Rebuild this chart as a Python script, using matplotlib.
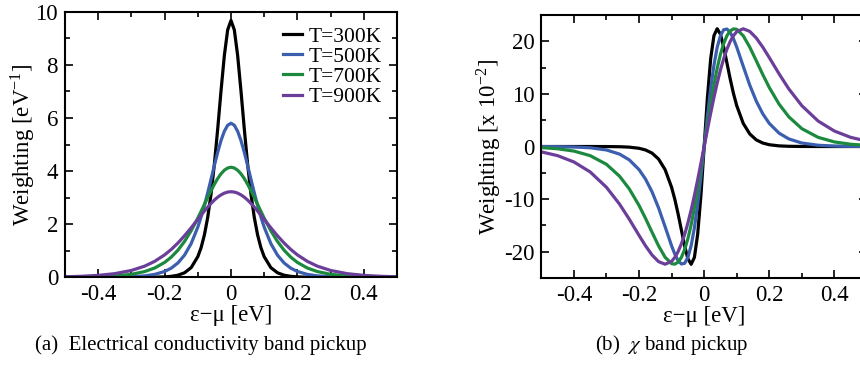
"""Fermi-window weightings for electrical conductivity and chi band pickup."""
import matplotlib
matplotlib.use("Agg")
import matplotlib.pyplot as plt
from matplotlib.ticker import MultipleLocator

plt.rcParams["font.family"] = ["Liberation Serif", "DejaVu Serif"]
plt.rcParams["mathtext.fontset"] = "stix"
plt.rcParams["axes.unicode_minus"] = False

# energy grid (eV)
X = [-0.50, -0.45, -0.40, -0.35, -0.30, -0.26, -0.23, -0.20, -0.18, -0.16,
     -0.14, -0.12, -0.10, -0.09, -0.08, -0.07, -0.06, -0.05, -0.04, -0.03,
     -0.02, -0.01, 0.00, 0.01, 0.02, 0.03, 0.04, 0.05, 0.06, 0.07, 0.08,
     0.09, 0.10, 0.12, 0.14, 0.16, 0.18, 0.20, 0.23, 0.26, 0.30, 0.35, 0.40,
     0.45, 0.50]

labels = ["T=300K", "T=500K", "T=700K", "T=900K"]
colors = ["#000000", "#3b5fae", "#1c8a3e", "#6b3f99"]

# (a) electrical conductivity weighting [eV^-1]
cond_300 = [0.000, 0.000, 0.000, 0.000, 0.000, 0.002, 0.005, 0.017, 0.037, 0.079,
            0.171, 0.366, 0.776, 1.120, 1.604, 2.267, 3.149, 4.268, 5.596, 7.027,
            8.356, 9.317, 9.670, 9.317, 8.356, 7.027, 5.596, 4.268, 3.149, 2.267,
            1.604, 1.120, 0.776, 0.366, 0.171, 0.079, 0.037, 0.017, 0.005, 0.002,
            0.000, 0.000, 0.000, 0.000, 0.000]
cond_500 = [0.000, 0.001, 0.002, 0.007, 0.022, 0.055, 0.110, 0.220, 0.345, 0.540,
            0.835, 1.271, 1.889, 2.276, 2.711, 3.191, 3.699, 4.216, 4.712, 5.152,
            5.500, 5.725, 5.802, 5.725, 5.500, 5.152, 4.712, 4.216, 3.699, 3.191,
            2.711, 2.276, 1.889, 1.271, 0.835, 0.540, 0.345, 0.220, 0.110, 0.055,
            0.022, 0.007, 0.002, 0.001, 0.000]
cond_700 = [0.004, 0.010, 0.022, 0.050, 0.113, 0.217, 0.350, 0.561, 0.760, 1.020,
            1.350, 1.755, 2.228, 2.485, 2.748, 3.011, 3.267, 3.506, 3.720, 3.898,
            4.032, 4.116, 4.144, 4.116, 4.032, 3.898, 3.720, 3.506, 3.267, 3.011,
            2.748, 2.485, 2.228, 1.755, 1.350, 1.020, 0.760, 0.561, 0.350, 0.217,
            0.113, 0.050, 0.022, 0.010, 0.004]
cond_900 = [0.020, 0.039, 0.073, 0.138, 0.259, 0.421, 0.601, 0.845, 1.050, 1.290,
            1.564, 1.865, 2.183, 2.342, 2.498, 2.646, 2.785, 2.910, 3.018, 3.105,
            3.170, 3.210, 3.223, 3.210, 3.170, 3.105, 3.018, 2.910, 2.785, 2.646,
            2.498, 2.342, 2.183, 1.865, 1.564, 1.290, 1.050, 0.845, 0.601, 0.421,
            0.259, 0.138, 0.073, 0.039, 0.020]

# (b) chi weighting [x 10^-2]
chi_300 = [0.00, 0.00, 0.00, 0.00, -0.01, -0.04, -0.12, -0.34, -0.66, -1.26,
           -2.39, -4.39, -7.76, -10.08, -12.83, -15.87, -18.89, -21.34, -22.39, -21.08,
           -16.71, -9.32, 0.00, 9.32, 16.71, 21.08, 22.39, 21.34, 18.89, 15.87,
           12.83, 10.08, 7.76, 4.39, 2.39, 1.26, 0.66, 0.34, 0.12, 0.04,
           0.01, 0.00, 0.00, 0.00, 0.00]
chi_500 = [-0.01, -0.03, -0.09, -0.24, -0.66, -1.44, -2.54, -4.39, -6.21, -8.63,
           -11.68, -15.25, -18.89, -20.48, -21.69, -22.33, -22.20, -21.08, -18.85, -15.46,
           -11.00, -5.73, 0.00, 5.73, 11.00, 15.46, 18.85, 21.08, 22.20, 22.33,
           21.69, 20.48, 18.89, 15.25, 11.68, 8.63, 6.21, 4.39, 2.54, 1.44,
           0.66, 0.24, 0.09, 0.03, 0.01]
chi_700 = [-0.21, -0.43, -0.87, -1.74, -3.39, -5.64, -8.06, -11.21, -13.68, -16.31,
           -18.89, -21.05, -22.28, -22.36, -21.98, -21.08, -19.60, -17.53, -14.88, -11.69,
           -8.06, -4.12, 0.00, 4.12, 8.06, 11.69, 14.88, 17.53, 19.60, 21.08,
           21.98, 22.36, 22.28, 21.05, 18.89, 16.31, 13.68, 11.21, 8.06, 5.64,
           3.39, 1.74, 0.87, 0.43, 0.21]
chi_900 = [-1.02, -1.74, -2.94, -4.84, -7.76, -10.95, -13.82, -16.90, -18.89, -20.63,
           -21.89, -22.38, -21.83, -21.08, -19.98, -18.52, -16.71, -14.55, -12.07, -9.32,
           -6.34, -3.21, 0.00, 3.21, 6.34, 9.32, 12.07, 14.55, 16.71, 18.52,
           19.98, 21.08, 21.83, 22.38, 21.89, 20.63, 18.89, 16.90, 13.82, 10.95,
           7.76, 4.84, 2.94, 1.74, 1.02]

cond = [cond_300, cond_500, cond_700, cond_900]
chi = [chi_300, chi_500, chi_700, chi_900]

FS = 16.5


def style_axes(ax, ymajor, yminor):
    ax.set_xlim(-0.5, 0.5)
    ax.xaxis.set_major_locator(MultipleLocator(0.2))
    ax.xaxis.set_minor_locator(MultipleLocator(0.1))
    ax.yaxis.set_major_locator(MultipleLocator(ymajor))
    ax.yaxis.set_minor_locator(MultipleLocator(yminor))
    ax.tick_params(which="both", direction="in", top=True, right=True,
                   labelsize=FS, width=1.2, pad=5)
    ax.tick_params(which="major", length=6)
    ax.tick_params(which="minor", length=3.5)
    for sp in ax.spines.values():
        sp.set_linewidth(1.5)
    ax.xaxis.set_major_formatter(plt.FuncFormatter(
        lambda v, p: "0" if abs(v) < 1e-9 else f"{v:.1f}"))
    ax.set_xlabel("ε−μ [eV]", fontsize=FS, labelpad=0)


fig = plt.figure(figsize=(8.6, 3.66), dpi=100)

ax1 = fig.add_axes([0.0756, 0.2423, 0.386, 0.7257])
for y, lab, c in zip(cond, labels, colors):
    ax1.plot(X, y, color=c, lw=2.3, label=lab)
ax1.set_ylim(0, 10)
style_axes(ax1, 2, 1)
ax1.set_ylabel(r"Weighting [eV$^{\mathregular{-1}}$]", fontsize=FS, labelpad=-1)
ax1.legend(loc="upper right", bbox_to_anchor=(1.0, 1.0), frameon=False,
           fontsize=15.5, handlelength=0.9, handletextpad=0.3, labelspacing=0.0,
           borderaxespad=0.3)

ax2 = fig.add_axes([0.6295, 0.2404, 0.3786, 0.7186])
for y, c in zip(chi, colors):
    ax2.plot(X, y, color=c, lw=2.3)
ax2.set_ylim(-25, 25)
style_axes(ax2, 10, 5)
ax2.set_ylabel(r"Weighting [x 10$^{\mathregular{-2}}$]", fontsize=FS, labelpad=1)

fig.text(0.234, 0.057, "(a)  Electrical conductivity band pickup",
         fontsize=15, ha="center", va="center")
fig.text(0.781, 0.057, r"(b)  $\chi$ band pickup",
         fontsize=15, ha="center", va="center")

fig.savefig("out.png", dpi=100)
plt.close(fig)
